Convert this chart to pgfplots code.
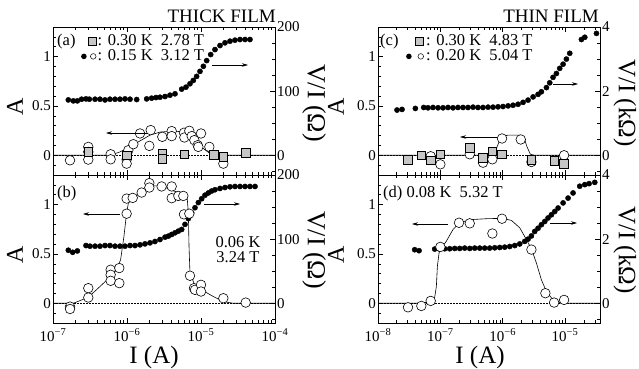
\documentclass[border=0pt]{standalone}
\usepackage{pgfplots}
\pgfplotsset{compat=1.18}
\usepackage{fontspec}
\setmainfont{Liberation Serif}
\usetikzlibrary{arrows.meta}
\newcommand\fs[1]{\fontsize{#1bp}{#1bp}\selectfont}
\newcommand\legfont{\fontsize{16.5bp}{15bp}\selectfont}
\newcommand\sqg{\tikz[baseline=0pt]\draw[fill=gray!45,line width=0.5bp] (0,0) rectangle (8bp,8bp);}
\newcommand\dotg{\tikz[baseline=0pt]\fill (0,3.6bp) circle (2.8bp);}
\newcommand\circg{\tikz[baseline=0pt]\draw[line width=0.5bp] (0,3.6bp) circle (2.8bp);}
\pgfplotsset{
 base/.style={scale only axis, width=222bp, height=148bp, anchor=north west,
   tick align=inside, major tick length=5bp, minor tick length=3bp,
   every tick/.style={black, line width=0.6bp}, axis line style={line width=0.8bp},
   tick label style={font=\fs{15}}, /pgf/number format/assume math mode=true,
   yticklabel style={inner sep=2bp}},
 leftA/.style={base, ymin=-0.2, ymax=1.3, ytick={0,0.5,1},
   minor ytick={-0.1,0.1,0.2,0.3,0.4,0.6,0.7,0.8,0.9,1.1,1.2},
   ytick pos=left, xtick pos=both},
 rangeAB/.style={xmin=-7, xmax=-4, xtick={-7,-6,-5,-4},
   minor xtick={-6.699,-6.523,-6.398,-6.301,-6.222,-6.155,-6.097,-6.046,
   -5.699,-5.523,-5.398,-5.301,-5.222,-5.155,-5.097,-5.046,
   -4.699,-4.523,-4.398,-4.301,-4.222,-4.155,-4.097,-4.046}},
 rangeCD/.style={xmin=-8, xmax=-4.44, xtick={-8,-7,-6,-5},
   minor xtick={-7.699,-7.523,-7.398,-7.301,-7.222,-7.155,-7.097,-7.046,
   -6.699,-6.523,-6.398,-6.301,-6.222,-6.155,-6.097,-6.046,
   -5.699,-5.523,-5.398,-5.301,-5.222,-5.155,-5.097,-5.046,
   -4.699,-4.523}},
 rOhm/.style={base, axis x line=none, axis y line*=right, ymin=-30.769, ymax=200,
   ytick={0,100,200}, minor ytick={-25,25,50,75,125,150,175}},
 rkOhm/.style={base, axis x line=none, axis y line*=right, ymin=-0.61538, ymax=4,
   ytick={0,2,4}, minor ytick={-0.5,0.5,1,1.5,2.5,3,3.5}},
 bottomlab/.style={xticklabel style={anchor=base, yshift=-18bp}},
 dots/.style={only marks, mark=*, mark size=2.6bp, black},
 open/.style={only marks, mark=*, mark size=4.8bp, mark options={fill=white, draw=black, line width=0.6bp}},
 sq/.style={only marks, mark=square*, mark size=4.3bp, mark options={fill=gray!45, draw=black, line width=0.6bp}},
 fit/.style={black, line width=0.6bp, no marks},
 zero/.style={black, line width=0.4bp, dash pattern=on 1.5bp off 1.5bp, no marks},
}
\begin{document}
\begin{tikzpicture}
\useasboundingbox (0,0) rectangle (639bp,-369bp);
% ---------------- (a) ----------------
\begin{axis}[rOhm, rangeAB, at={(53bp,-27bp)}]
\addplot[dots] coordinates {(-6.793,86.3)(-6.725,84.8)(-6.671,84.8)(-6.613,87.4)(-6.554,87.9)(-6.509,87.4)(-6.432,87.4)(-6.365,87.4)(-6.297,86.3)(-6.230,87.4)(-6.162,87.4)(-6.095,87.4)(-6.027,87.9)(-5.959,87.4)(-5.869,86.9)(-5.734,87.9)(-5.667,89.0)(-5.608,90.0)(-5.554,90.5)(-5.486,91.6)(-5.419,93.7)(-5.351,95.8)(-5.261,103.1)(-5.203,106.2)(-5.149,111.5)(-5.104,116.7)(-5.059,123.0)(-5.014,130.8)(-4.968,138.7)(-4.923,147.6)(-4.869,157.0)(-4.811,164.8)(-4.743,171.1)(-4.676,175.3)(-4.608,177.9)(-4.541,179.5)(-4.473,180.5)(-4.405,180.5)(-4.338,180.5)};
\end{axis}
\begin{axis}[leftA, rangeAB, at={(53bp,-27bp)}, xticklabels={}]
\addplot[zero] coordinates {(-7,0)(-4,0)};
\addplot[fit] coordinates {(-7,0)(-6.230,0)(-6.095,0.034)(-5.959,0.085)(-5.824,0.146)(-5.689,0.204)(-5.554,0.235)(-5.374,0.245)(-5.239,0.238)(-5.149,0.204)(-5.059,0.136)(-4.968,0.068)(-4.878,0.017)(-4.788,0)(-4,0)};
\addplot[open] coordinates {(-6.770,-0.051)(-6.523,0.085)(-6.523,0.034)(-6.523,-0.044)(-6.221,0.010)(-6.221,-0.041)(-6.005,-0.044)(-6.005,-0.085)(-5.982,0.051)(-5.914,0.112)(-5.824,0.221)(-5.698,0.095)(-5.680,0.255)(-5.523,0.187)(-5.396,0.245)(-5.396,0.194)(-5.230,0.228)(-5.225,0.180)(-5.158,0.248)(-5.126,0.194)(-5.090,0.153)(-5.045,0.102)(-5.036,0.085)(-5.000,0.221)(-4.887,0.085)(-4.698,-0.085)};
\addplot[sq] coordinates {(-6.523,0.034)(-6.005,0.000)(-5.523,0.017)(-5.523,-0.034)(-5.225,0.010)(-4.824,0.007)(-4.698,-0.017)(-4.396,0.024)};
\end{axis}
% ---------------- (b) ----------------
\begin{axis}[rOhm, rangeAB, at={(53bp,-175bp)}]
\addplot[dots] coordinates {(-6.793,82.7)(-6.734,79.5)(-6.671,81.6)(-6.554,90.0)(-6.500,89.0)(-6.432,89.0)(-6.365,89.0)(-6.297,90.0)(-6.230,90.0)(-6.162,89.0)(-6.095,89.0)(-6.027,89.0)(-5.959,90.0)(-5.892,90.0)(-5.824,91.1)(-5.757,92.6)(-5.689,94.2)(-5.622,96.3)(-5.554,99.4)(-5.486,103.1)(-5.441,104.7)(-5.396,107.3)(-5.351,109.9)(-5.306,112.5)(-5.261,115.1)(-5.216,123.0)(-5.171,132.0)(-5.126,141.0)(-5.081,149.0)(-5.036,157.0)(-4.991,163.0)(-4.946,168.5)(-4.901,172.0)(-4.856,175.0)(-4.811,177.0)(-4.743,179.0)(-4.676,180.5)(-4.608,181.6)(-4.541,182.1)(-4.473,182.1)(-4.405,182.1)(-4.338,182.1)(-4.270,182.1)};
\end{axis}
\begin{axis}[leftA, rangeAB, bottomlab, at={(53bp,-175bp)}, xticklabels={10\textsuperscript{−7},10\textsuperscript{−6},10\textsuperscript{−5},10\textsuperscript{−4}}]
\addplot[zero] coordinates {(-7,0)(-4,0)};
\addplot[fit] coordinates {(-7,0)(-6.725,0)(-6.523,0.061)(-6.365,0.170)(-6.221,0.272)(-6.140,0.340)(-6.086,0.442)(-6.041,0.680)(-6.005,0.918)(-5.973,1.048)(-5.914,1.071)(-5.802,1.122)(-5.698,1.190)(-5.532,1.190)(-5.374,1.139)(-5.216,1.105)(-5.185,1.054)(-5.171,0.918)(-5.162,0.578)(-5.149,0.306)(-5.081,0.177)(-4.991,0.136)(-4.833,0.068)(-4.698,0.017)(-4.563,0)(-4,0)};
\addplot[open] coordinates {(-6.770,-0.034)(-6.770,-0.058)(-6.523,0.153)(-6.523,0.058)(-6.221,0.340)(-6.221,0.289)(-6.221,0.228)(-6.104,0.357)(-6.104,0.204)(-6.005,0.908)(-6.005,1.061)(-5.923,1.068)(-5.802,1.122)(-5.698,1.218)(-5.698,1.173)(-5.532,1.184)(-5.396,1.184)(-5.396,1.065)(-5.306,1.088)(-5.239,1.088)(-5.230,0.901)(-5.158,0.908)(-5.149,0.279)(-5.095,0.153)(-5.081,0.136)(-5.000,0.187)(-5.000,0.119)(-4.698,0.051)(-4.396,0.007)};
\end{axis}
% ---------------- (c) ----------------
\begin{axis}[rkOhm, rangeCD, at={(378bp,-27bp)}]
\addplot[dots] coordinates {(-7.695,1.41)(-7.615,1.43)(-7.401,1.46)(-7.267,1.49)(-7.198,1.48)(-7.118,1.49)(-7.037,1.48)(-6.957,1.48)(-6.877,1.49)(-6.797,1.48)(-6.717,1.49)(-6.636,1.49)(-6.556,1.49)(-6.476,1.50)(-6.396,1.49)(-6.316,1.49)(-6.235,1.50)(-6.155,1.50)(-6.075,1.51)(-5.995,1.52)(-5.914,1.54)(-5.834,1.56)(-5.754,1.59)(-5.674,1.65)(-5.594,1.72)(-5.513,1.82)(-5.433,1.90)(-5.380,1.98)(-5.299,2.11)(-5.246,2.26)(-5.193,2.43)(-5.139,2.55)(-5.086,2.71)(-5.032,2.84)(-4.979,3.00)(-4.925,3.18)(-4.738,3.61)(-4.684,3.68)(-4.497,3.80)};
\end{axis}
\begin{axis}[leftA, rangeCD, at={(378bp,-27bp)}, xticklabels={}]
\addplot[zero] coordinates {(-8,0)(-4.44,0)};
\addplot[fit] coordinates {(-8,0)(-6.155,0)(-6.102,0.068)(-6.048,0.153)(-5.984,0.194)(-5.914,0.204)(-5.727,0.204)(-5.663,0.187)(-5.610,0.085)(-5.556,0.010)(-5.487,0)(-4.44,0)};
\addplot[open] coordinates {(-7.155,-0.010)(-7.000,-0.092)(-6.529,0.010)(-6.316,-0.075)(-6.166,-0.041)(-6.011,0.170)(-5.711,0.160)(-5.540,-0.068)(-5.016,0.000)};
\addplot[sq] coordinates {(-7.519,-0.044)(-7.305,0.000)(-7.155,-0.051)(-7.000,0.010)(-6.529,0.075)(-6.316,-0.027)(-6.166,0.041)(-6.011,0.010)(-5.540,-0.044)(-5.176,-0.058)(-5.016,-0.085)};
\end{axis}
% ---------------- (d) ----------------
\begin{axis}[rkOhm, rangeCD, at={(378bp,-175bp)}]
\addplot[dots] coordinates {(-7.412,1.67)(-7.342,1.64)(-7.091,1.69)(-7.011,1.69)(-6.930,1.70)(-6.850,1.70)(-6.770,1.71)(-6.690,1.71)(-6.610,1.72)(-6.529,1.71)(-6.449,1.72)(-6.369,1.72)(-6.289,1.72)(-6.209,1.72)(-6.128,1.73)(-6.048,1.74)(-5.968,1.75)(-5.888,1.77)(-5.807,1.80)(-5.727,1.85)(-5.647,1.93)(-5.594,2.00)(-5.540,2.10)(-5.487,2.24)(-5.433,2.34)(-5.380,2.45)(-5.326,2.55)(-5.273,2.66)(-5.219,2.76)(-5.166,2.86)(-5.112,2.97)(-5.032,3.13)(-4.952,3.28)(-4.872,3.44)(-4.765,3.65)(-4.684,3.70)(-4.615,3.73)(-4.524,3.77)};
\end{axis}
\begin{axis}[leftA, rangeCD, bottomlab, at={(378bp,-175bp)}, xticklabels={10\textsuperscript{−8},10\textsuperscript{−7},10\textsuperscript{−6},10\textsuperscript{−5}}]
\addplot[zero] coordinates {(-8,0)(-4.44,0)};
\addplot[fit] coordinates {(-8,0)(-7.332,0)(-7.171,0.014)(-7.091,0.061)(-7.064,0.170)(-7.048,0.374)(-7.021,0.510)(-6.984,0.561)(-6.904,0.629)(-6.797,0.748)(-6.690,0.816)(-6.529,0.847)(-6.262,0.857)(-6.011,0.861)(-5.861,0.840)(-5.727,0.765)(-5.620,0.646)(-5.540,0.551)(-5.460,0.408)(-5.380,0.238)(-5.299,0.119)(-5.193,0.034)(-5.086,0.007)(-4.925,0)(-4.44,0)};
\addplot[open] coordinates {(-7.519,-0.041)(-7.305,-0.027)(-7.155,0.024)(-7.000,0.571)(-6.701,0.816)(-6.529,0.810)(-6.166,0.707)(-6.011,0.857)(-5.540,0.544)(-5.316,0.102)(-5.176,0.007)(-5.016,0.034)};
\end{axis}
% ---------------- texts ----------------
\node[anchor=base east, font=\fs{19}, inner sep=0] at (276bp,-22bp) {THICK FILM};
\node[anchor=base east, font=\fs{19}, inner sep=0] at (599bp,-22bp) {THIN FILM};
\foreach \x/\y in {15/107,15/255,336/107,336/255}
  \node[rotate=90, font=\fs{24}] at (\x bp,-\y bp) {A};
\node[rotate=-90, font=\fs{26}, inner sep=0] at (314bp,-103bp) {V/I (Ω)};
\node[rotate=-90, font=\fs{26}, inner sep=0] at (314bp,-250bp) {V/I (Ω)};
\node[rotate=-90, font=\fs{25}, inner sep=0] at (625bp,-103bp) {V/I (kΩ)};
\node[rotate=-90, font=\fs{25}, inner sep=0] at (625bp,-250bp) {V/I (kΩ)};
\node[anchor=base, font=\fs{25}, inner sep=0] at (154bp,-363bp) {I (A)};
\node[anchor=base, font=\fs{25}, inner sep=0] at (480bp,-363bp) {I (A)};
% legends
\node[anchor=base west, font=\legfont, inner sep=0] at (57bp,-45bp) {(a)};
\node[anchor=base east, font=\legfont, inner sep=0] at (96.5bp,-45bp) {\begin{tabular}[t]{@{}r@{}}\sqg\\ \dotg\hspace{3.5bp}\circg\hspace{2.8bp}\end{tabular}};
\node[anchor=base west, font=\legfont, inner sep=0] at (97.5bp,-45bp) {\begin{tabular}[t]{@{}l@{}}: 0.30 K\ \ 2.78 T\\ : 0.15 K\ \ 3.12 T\end{tabular}};
\node[anchor=base west, font=\legfont, inner sep=0] at (57bp,-197bp) {(b)};
\node[anchor=base, font=\legfont, inner sep=0] at (238bp,-247bp) {\begin{tabular}[t]{@{}c@{}}0.06 K\\ 3.24 T\end{tabular}};
\node[anchor=base west, font=\legfont, inner sep=0] at (380bp,-45bp) {(c)};
\node[anchor=base east, font=\legfont, inner sep=0] at (424bp,-45bp) {\begin{tabular}[t]{@{}r@{}}\sqg\\ \dotg\hspace{6bp}\circg\hspace{2.8bp}\end{tabular}};
\node[anchor=base west, font=\legfont, inner sep=0] at (426bp,-45bp) {\begin{tabular}[t]{@{}l@{}}: 0.30 K\ \ 4.83 T\\ : 0.20 K\ \ 5.04 T\end{tabular}};
\node[anchor=base west, font=\legfont, inner sep=0] at (383bp,-197bp) {(d) 0.08 K\ \ 5.32 T};
% arrows
\begin{scope}[line width=0.6bp, -{Stealth[length=6bp,width=3.5bp]}]
\draw (147bp,-133bp) -- (106bp,-133bp);
\draw (212bp,-65bp) -- (248bp,-65bp);
\draw (120bp,-214bp) -- (83bp,-214bp);
\draw (204bp,-204bp) -- (240bp,-204bp);
\draw (497bp,-137bp) -- (460bp,-137bp);
\draw (553bp,-84bp) -- (578bp,-84bp);
\draw (448bp,-224bp) -- (412bp,-224bp);
\draw (550bp,-223bp) -- (577bp,-223bp);
\end{scope}
\end{tikzpicture}
\end{document}
